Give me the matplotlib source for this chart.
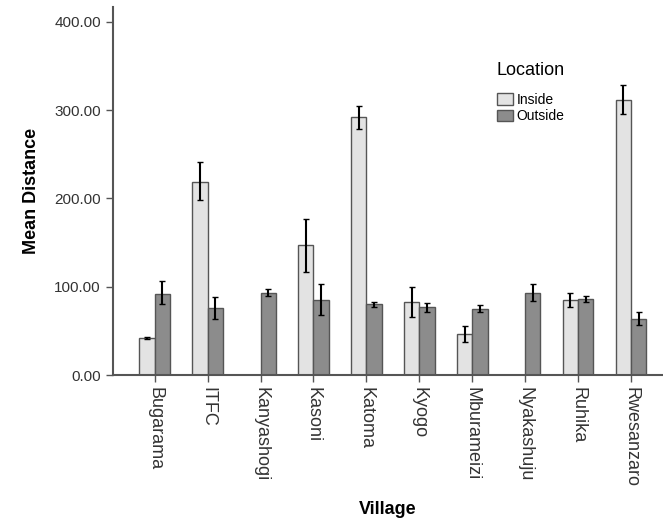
import numpy as np
import matplotlib.pyplot as plt

plt.rcParams['font.family'] = ['Liberation Sans', 'DejaVu Sans']

villages = ["Bugarama", "ITFC", "Kanyashogi", "Kasoni", "Katoma", "Kyogo",
            "Mburameizi", "Nyakashuju", "Ruhika", "Rwesanzaro"]
inside = [42, 219, np.nan, 147, 292, 83, 46, np.nan, 85, 312]
inside_lo = [41, 198, np.nan, 117, 279, 66, 37, np.nan, 77, 296]
inside_hi = [43, 241, np.nan, 177, 305, 100, 55, np.nan, 93, 328]
outside = [92, 76, 93, 85, 80, 77, 75, 93, 86, 64]
outside_lo = [80, 63, 90, 68, 77, 71, 71, 84, 83, 57]
outside_hi = [106, 88, 97, 103, 83, 82, 79, 103, 89, 71]

x = np.arange(len(villages))
w = 0.29

fig = plt.figure(figsize=(6.63, 5.29), dpi=100)
ax = fig.add_axes([0.170, 0.291, 0.830, 0.696])

ins = np.array(inside, dtype=float)
outs = np.array(outside, dtype=float)
ins_err = [ins - np.array(inside_lo), np.array(inside_hi) - ins]
outs_err = [outs - np.array(outside_lo), np.array(outside_hi) - outs]

ekw = dict(ecolor="black", elinewidth=1.5, capsize=2, capthick=1)
ax.bar(x - w/2, ins, w, color="#e3e3e3", edgecolor="#555555", linewidth=1,
       label="Inside", yerr=ins_err, error_kw=ekw)
ax.bar(x + w/2, outs, w, color="#8c8c8c", edgecolor="#555555", linewidth=1,
       label="Outside", yerr=outs_err, error_kw=ekw)

ax.set_xlim(-0.794, 9.605)
ax.set_ylim(0, 417)
ax.set_yticks([0, 100, 200, 300, 400])
ax.set_yticklabels(["0.00", "100.00", "200.00", "300.00", "400.00"], fontsize=11, color="#333333")
ax.set_xticks(x)
ax.set_xticklabels(villages, rotation=270, fontsize=13, color="#333333")

for s in ["top", "right"]:
    ax.spines[s].set_visible(False)
for s in ["left", "bottom"]:
    ax.spines[s].set_color("#555555")
    ax.spines[s].set_linewidth(1.5)
ax.tick_params(axis="both", color="#555555", width=1, length=5)

ax.set_xlabel("Village", fontsize=13, fontweight="bold", labelpad=10)
ax.set_ylabel("Mean Distance", fontsize=13, fontweight="bold", labelpad=10)

leg = ax.legend(title="Location", loc="upper left", bbox_to_anchor=(0.698, 0.85), frameon=False,
                fontsize=10, title_fontsize=13, handlelength=1.2, handleheight=0.9, handletextpad=0.2,
                labelspacing=0.15, borderaxespad=0, borderpad=0)
leg._legend_box.align = "left"
leg._legend_box.sep = 10

plt.savefig("out.png", dpi=100)
